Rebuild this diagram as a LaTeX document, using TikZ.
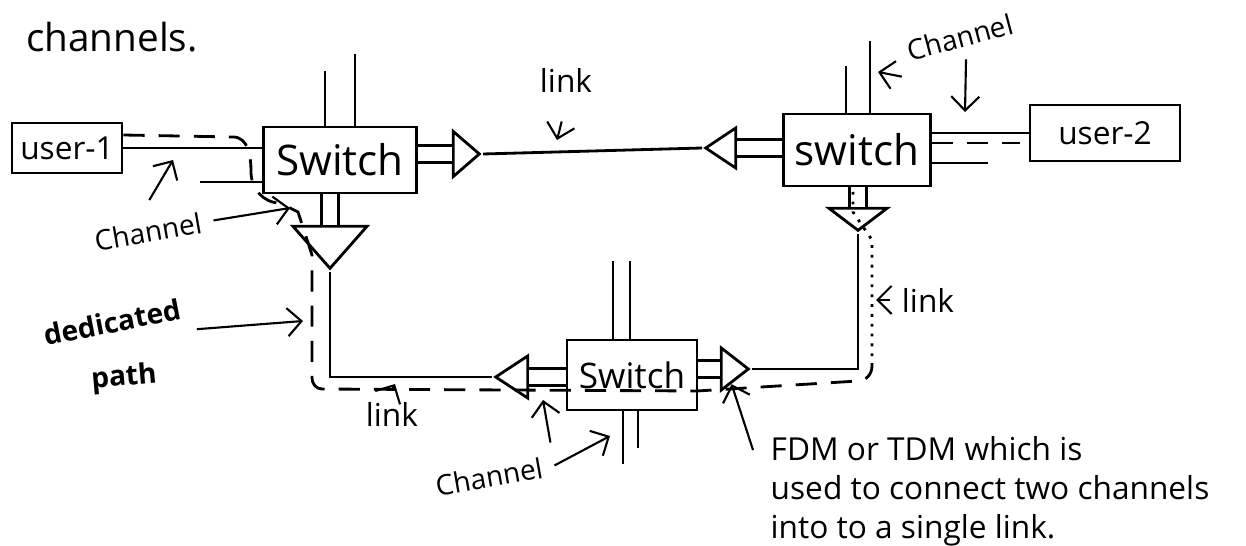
\documentclass[tikz,border=0pt]{standalone}
\usepackage{fontspec}
\setmainfont{Open Sans}
\usetikzlibrary{arrows.meta,positioning,shapes.geometric,calc}
\tikzset{
  box/.style={draw,thick,inner sep=0pt,font=\large},
  ubox/.style={box,font=\small},
  tri/.style={draw,thick,isosceles triangle,isosceles triangle stretches,inner sep=0pt},
  chan/.style={thick,double,double distance=4pt},
  ln/.style={thick},
  dpath/.style={thick,dash pattern=on 6pt off 4pt},
  ar/.style={-{Straight Barb[length=4pt]},semithick},
  lbl/.style={font=\small},
  clbl/.style={font=\footnotesize},
}
\begin{document}
\begin{tikzpicture}[x=0.01cm,y=-0.01cm]
  \useasboundingbox (0,0) rectangle (1246,546);
  \node[font=\fontsize{11}{13}\selectfont] (chn) at (112,37) {channels.};
  \node[ubox,minimum width=1.1cm,minimum height=0.5cm] (u1) at (67,148) {user-1};
  \node[box,minimum width=1.53cm,minimum height=0.66cm] (s1) at (340,160) {Switch};
  \node[box,minimum width=1.47cm,minimum height=0.72cm] (s2) at (857,150) {switch};
  \node[ubox,minimum width=1.5cm,minimum height=0.56cm] (u2) at (1105,133) {user-2};
  \node[box,font=\normalsize,minimum width=1.3cm,minimum height=0.7cm] (s3) at (632,375) {Switch};
  \node[tri,minimum height=0.26cm,minimum width=0.45cm,anchor=apex] (ta) at (483,154) {};
  \node[tri,minimum height=0.3cm,minimum width=0.4cm,rotate=180,anchor=apex] (tb) at (702,148) {};
  \node[tri,minimum height=0.42cm,minimum width=0.74cm,rotate=-90,anchor=apex] (td) at (330,272) {};
  \node[tri,minimum height=0.22cm,minimum width=0.58cm,rotate=-90,anchor=apex] (tc) at (858,234) {};
  \node[tri,minimum height=0.32cm,minimum width=0.42cm,rotate=180,anchor=apex] (te) at (492,377) {};
  \node[tri,minimum height=0.27cm,minimum width=0.42cm,anchor=apex] (tf) at (752,369) {};
  \draw[chan] (ta.lower side -| s1.east) -- (ta.lower side);
  \draw[chan] (tb.lower side) -- (tb.lower side -| s2.west);
  \draw[chan] (td.lower side |- s1.south) -- (td.lower side);
  \draw[chan] (tc.lower side |- s2.south) -- (tc.lower side);
  \draw[chan] (te.lower side) -- (te.lower side -| s3.west);
  \draw[chan] (tf.lower side -| s3.east) -- (tf.lower side);
  \draw[ln] (ta.apex) -- (tb.apex);
  \draw[ln] (td.apex) |- (te.apex);
  \draw[ln] (tf.apex) -| (tc.apex);
  \draw[ln] (u1.east) -- (u1.east -| s1.west);
  \draw[ln] (u2.west -| s2.east) -- (u2.west);
  \coordinate (c1) at (200,182);
  \coordinate (c2) at (988,163);
  \draw[ln] (c1) -- (c1 -| s1.west);
  \draw[ln] (c2 -| s2.east) -- (c2);
  \draw[ln] ($(s1.north)+(-15,0)$) -- ++(0,-55);
  \draw[ln] ($(s1.north)+(15,0)$) -- ++(0,-72);
  \draw[ln] ($(s2.north)+(-11,0)$) -- ++(0,-47);
  \draw[ln] ($(s2.north)+(13,0)$) -- ++(0,-72);
  \draw[ln] ($(s3.north)+(-19,0)$) -- ++(0,-78);
  \draw[ln] ($(s3.north)+(-2,0)$) -- ++(0,-78);
  \draw[ln] ($(s3.south)+(-9,0)$) -- ++(0,53);
  \draw[ln] ($(s3.south)+(6,0)$) -- ++(0,37);
  \draw[dpath] (u1.east |- 0,135) -- (233,137) to[out=0,in=90] (251,172) to[out=-90,in=180] (280,203) -- (298,212) -- (312,255) -- (312,378) to[out=-90,in=180] (322,389) -- (697,391) -- (858,381) to[out=0,in=-90] (872,366);
  \draw[thick,dotted] (872,366) -- (872,240) -- (853,212) -- (853,190);
  \draw[dpath] (s2.east |- 0,143) -- (1020,143);
  \node[lbl] (lk1) at (566,80) {link};
  \coordinate (p1) at (557,140);
  \draw[ar,shorten <=5pt] (lk1.south) -- (p1);
  \node[clbl,rotate=15] (ch1) at (960,37) {Channel};
  \coordinate (p2) at (878,72);
  \coordinate (p3) at (965,112);
  \draw[ar] (ch1.south west) -- (p2);
  \draw[ar] (ch1.south) -- (p3);
  \node[clbl,rotate=10] (ch2) at (148,232) {Channel};
  \coordinate (p4) at (173,160);
  \coordinate (p5) at (290,208);
  \draw[ar,shorten <=3pt] (ch2.north) -- (p4);
  \draw[ar] (ch2.east) -- (p5);
  \node[clbl,font=\footnotesize\bfseries,rotate=11] (dp1) at (112,322) {dedicated};
  \node[clbl,font=\footnotesize\bfseries,rotate=5] (dp2) at (124,378) {path};
  \coordinate (p6) at (303,321);
  \draw[ar] (dp1.south east) -- (p6);
  \node[lbl] (lk2) at (392,414) {link};
  \coordinate (p7) at (395,384);
  \draw[ar] (lk2.north) -- (p7);
  \node[lbl] (lk3) at (928,300) {link};
  \coordinate (p8) at (876,300);
  \draw[ar] (lk3.west) -- (p8);
  \node[clbl,rotate=10] (ch3) at (489,477) {Channel};
  \coordinate (p9) at (543,400);
  \coordinate (p10) at (610,436);
  \draw[ar] (ch3.north east) -- (p9);
  \draw[ar] (ch3.east) -- (p10);
  \node[lbl,align=left,anchor=north west,inner sep=0pt] (fdm) at (770,436) {FDM or TDM which is\\used to connect two channels\\into to a single link.};
  \draw[ar] ($(fdm.north west)+(-17,14)$) -- (tf.south);
\end{tikzpicture}
\end{document}
